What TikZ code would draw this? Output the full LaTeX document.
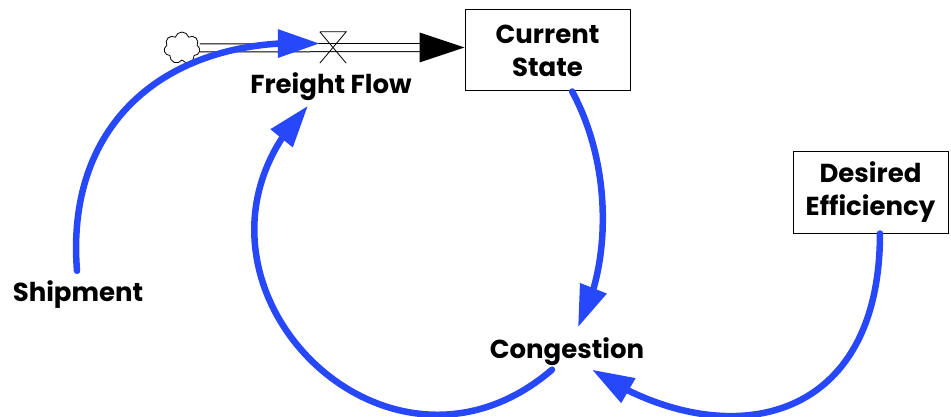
\documentclass[tikz,border=0pt]{standalone}
\usepackage{fontspec}
\setmainfont{Poppins}
\usetikzlibrary{arrows.meta,bending,shapes.symbols}
\definecolor{linkblue}{RGB}{38,72,250}

\tikzset{
  stock/.style={draw, line width=1pt, minimum width=#1, minimum height=81pt,
    align=center, inner sep=0pt, font=\bfseries\fontsize{26}{33}\selectfont},
  var/.style={inner sep=0pt, minimum height=42pt, text height=19pt, text depth=0pt,
    font=\bfseries\fontsize{26}{33}\selectfont},
  link/.style={draw=linkblue, line width=6.5pt, line cap=round,
    -{Triangle[length=42pt,width=27pt]}},
  pipe/.style={draw, line width=1pt, double distance=7pt},
}

\begin{document}
\begin{tikzpicture}[x=1pt,y=-1pt]
  \useasboundingbox (0,0) rectangle (951,417);

  % stocks and variables
  \node[stock=165pt] (cur) at (547.5,50.5) {Current\\State};
  \node[stock=155pt] (des) at (870.5,192.5) {Desired\\Efficiency};
  \node[var] (ff) at (331,84.5) {Freight Flow};
  \node[var] (ship) at (78,292) {Shipment};
  \node[var] (cong) at (567,348.5) {Congestion};

  % source cloud, pipe and valve
  \node[cloud, draw, cloud puffs=7, aspect=1.1, minimum width=36pt,
    minimum height=32pt, inner sep=0pt, line width=0.8pt] (cloud) at (182,48) {};
  \node[minimum width=26pt, minimum height=31pt, inner sep=0pt] (valve) at (333,47.5) {};
  \draw[pipe] (cloud.east) -- ([xshift=-44pt,yshift=3pt]cur.west);
  \fill ([xshift=-45pt,yshift=18pt]cur.west) -- ([yshift=3pt]cur.west)
    -- ([xshift=-45pt,yshift=-12pt]cur.west) -- cycle;
  \draw[line width=0.8pt] (valve.north west) -- (valve.north east) -- (valve.south west)
    (valve.north west) -- (valve.south east);

  % causal links
  \draw[link] ([xshift=-1pt]ship.north) .. controls (65,120) and (170,35) .. ([yshift=4pt]valve.west);
  \draw[link] (cur.-59) .. controls (612,165) and (612,265) .. ([xshift=11pt]cong.north);
  \draw[link] ([xshift=-15pt]cong.south) .. controls (380,517) and (148,270) .. ([xshift=-23pt]ff.south);
  \draw[link] (des.-77) .. controls (880,430) and (720,455) .. ([xshift=25pt]cong.south);
\end{tikzpicture}
\end{document}
